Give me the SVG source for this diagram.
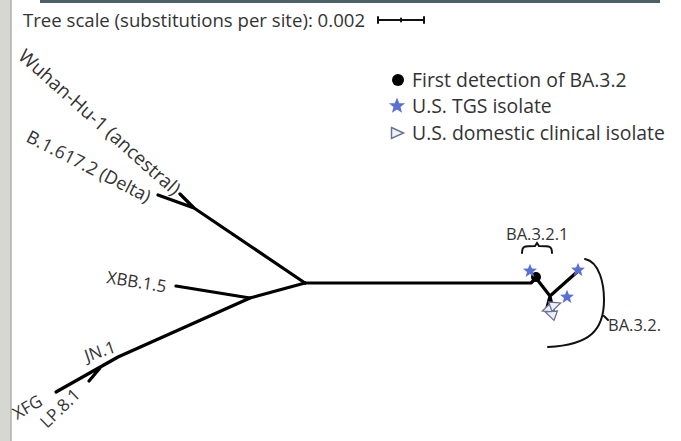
<svg xmlns="http://www.w3.org/2000/svg" width="681" height="441" viewBox="0 0 681 441">
<style>
.t{font-family:"Open Sans","Liberation Sans",sans-serif;fill:#333;font-size:19px}
.s17{font-size:17px}
.s165{font-size:16.5px}
.br{stroke:#000;stroke-width:3.2;fill:none;stroke-linecap:round;stroke-linejoin:round}
.thin{stroke:#111;stroke-width:2;fill:none;stroke-linecap:round}
.star{fill:#5a6fd6}
.tri{fill:#eef0fb;stroke:#6a7190;stroke-width:1.3}
</style>
<defs>
<path id="st" d="M0,-6 L1.6,-2 L5.8,-1.9 L2.5,0.8 L3.6,4.9 L0,2.5 L-3.6,4.9 L-2.5,0.8 L-5.8,-1.9 L-1.6,-2 Z" class="star"/>
<path id="tr" d="M-5,-5 L6,0 L-5,5 Z" class="tri"/>
</defs>
<rect x="0" y="0" width="681" height="441" fill="#ffffff"/>
<rect x="0" y="0" width="11" height="441" fill="#d6d6d2"/>
<line x1="11" y1="0" x2="11" y2="441" stroke="#b0b0ab" stroke-width="1.5"/>
<rect x="40" y="0" width="620" height="3" fill="#4d5f69"/>
<g id="title">
<text class="t" x="23" y="27" style="font-size:18.6px">Tree scale (substitutions per site): 0.002</text>
<path class="thin" d="M378,20 H424 M378,17 V23 M424,17 V23 M401,18.5 V21.5" stroke-width="1.5"/>
</g>
<g id="connectors">
<path class="br" d="M305,283 H531 L536,278"/>
<path class="br" d="M305,283 L194,208 L158,195 M194,208 L180,194"/>
<path class="br" d="M305,283 L250,298 L176,286"/>
<path class="br" d="M250,298 L118,357 L56,392 M100,368 L89,381"/>
<path class="br" d="M536,278 L550,296 L577,272 M550,296 L547,308 M550,296 L553,310" stroke-width="2.5"/>
</g>
<g id="tips">
<text class="t" transform="translate(17,58) rotate(41.5)">Wuhan-Hu-1 (ancestral)</text>
<text class="t" transform="translate(25,141) rotate(27)" style="font-size:18px">B.1.617.2 (Delta)</text>
<text class="t s17" transform="translate(106,283) rotate(9)">XBB.1.5</text>
<text class="t s17" transform="translate(87,362) rotate(-19)">JN.1</text>
<text class="t s17" transform="translate(17,420) rotate(-30)">XFG</text>
<text class="t s17" transform="translate(47,429) rotate(-44)">LP.8.1</text>
</g>
<g id="ba32">
<circle cx="536" cy="277" r="5" fill="#000"/>
<use href="#st" transform="translate(530,271) scale(1.2)"/>
<use href="#st" transform="translate(578,270) scale(1.2)"/>
<use href="#st" transform="translate(567,297) scale(1.2)"/>
<use href="#tr" transform="translate(548,309) rotate(160)"/>
<use href="#tr" transform="translate(551,314) rotate(200)"/>
<use href="#tr" transform="translate(555,305) rotate(-20)"/>
</g>
<g id="clades">
<text class="t s165" x="506" y="240">BA.3.2.1</text>
<path class="thin" d="M522,253 C522,246 524,246 535,246 L537,243 L539,246 C550,246 552,246 552,253"/>
<path class="thin" d="M585,259 C600,262 604,285 604,300 C604,330 590,345 548,347 M604,316 L608,320"/>
<text class="t s165" x="608" y="331">BA.3.2.</text>
</g>
<g id="legend">
<circle cx="398" cy="80" r="6" fill="#000"/>
<text class="t" x="412" y="87" style="font-size:19.4px">First detection of BA.3.2</text>
<use href="#st" transform="translate(397,106) scale(1.4)"/>
<text class="t" x="412" y="113" style="font-size:19.4px">U.S. TGS isolate</text>
<use href="#tr" transform="translate(397,133) scale(1.1)"/>
<text class="t" x="412" y="140" style="font-size:19.4px">U.S. domestic clinical isolate</text>
</g>
</svg>
